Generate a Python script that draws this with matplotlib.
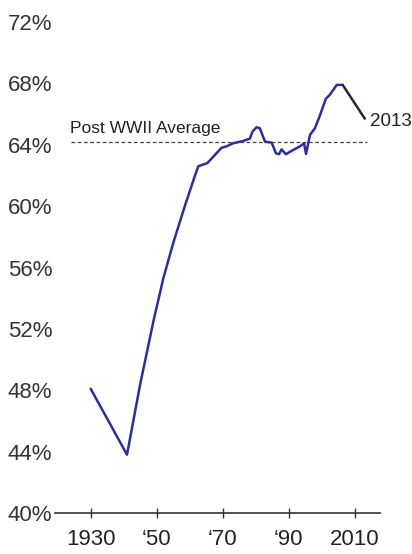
import matplotlib
matplotlib.use("Agg")
import matplotlib.pyplot as plt

# Homeownership rate, percent of households
years = [1930, 1941, 1945, 1949, 1952, 1955, 1958.5, 1961.6, 1962.6, 1965.3,
         1966.6, 1969.6, 1971.2, 1973.2, 1976.2, 1978.2, 1979, 1980.2, 1981.2,
         1982.8, 1984.8, 1986.1, 1987, 1987.8, 1989.1, 1990.8, 1993.4, 1994.6,
         1995.2, 1996.4, 1997.9, 1999.4, 2001.2, 2002.4, 2004.5, 2006.3, 2013]
rate = [48.1, 43.8, 48.4, 52.5, 55.3, 57.6, 60.0, 62.0, 62.6, 62.8,
        63.1, 63.8, 63.9, 64.1, 64.25, 64.4, 64.86, 65.14, 65.08,
        64.2, 64.14, 63.44, 63.38, 63.7, 63.38, 63.6, 63.9, 64.1,
        63.4, 64.64, 65.08, 65.9, 67.0, 67.25, 67.9, 67.9, 65.7]
post_war_avg = 64.2
avg_label = "Post WWII Average"
end_label = "2013"

y_ticks = [40, 44, 48, 52, 56, 60, 64, 68, 72]
y_labels = [f"{v}%" for v in y_ticks]
x_ticks = [1930, 1950, 1970, 1990, 2010]
x_labels = ["1930", "\u201850", "\u201870", "\u201890", "2010"]

font = "Liberation Sans"

W, H = 412, 554
fig = plt.figure(figsize=(W / 100, H / 100), dpi=100)
fig.patch.set_facecolor("white")
left_px, right_px, top_px, bottom_px = 55, 380, 22, 513
ax = fig.add_axes([left_px / W, 1 - bottom_px / H,
                   (right_px - left_px) / W, (bottom_px - top_px) / H])
ax.set_xlim(1919.2, 2017.6)
ax.set_ylim(40, 72)

main_color = "#2e2e98"
ax.plot(years[:-1], rate[:-1], color=main_color, lw=1.8, solid_joinstyle="round",
        solid_capstyle="round", zorder=3, clip_on=False)
ax.plot(years[-2:], rate[-2:], color="#26263f", lw=1.8, solid_capstyle="round",
        zorder=3, clip_on=False)

ax.plot([1924, 2013.6], [post_war_avg, post_war_avg], color="#444444", lw=0.9,
        ls=(0, (3, 2)), zorder=2)
ax.annotate(avg_label, xy=(1923.8, post_war_avg), xytext=(0, 4),
            textcoords="offset points", ha="left", va="bottom",
            fontsize=12.5, family=font, color="#222222")
ax.annotate(end_label, xy=(years[-1], rate[-1]), xytext=(4, -2),
            textcoords="offset points", ha="left", va="center",
            fontsize=13.5, family=font, color="#222222", annotation_clip=False)

for s in ["left", "right", "top"]:
    ax.spines[s].set_visible(False)
ax.spines["bottom"].set_color("#333333")
ax.spines["bottom"].set_linewidth(1.2)

ax.set_yticks(y_ticks)
ax.set_yticklabels(y_labels, family=font, fontsize=16, color="#333333")
ax.tick_params(axis="y", length=0, pad=2)
ax.set_xticks(x_ticks)
ax.set_xticklabels(x_labels, family=font, fontsize=16, color="#222222")
ax.tick_params(axis="x", direction="inout", length=7, width=1, color="#333333", pad=8)

fig.savefig("out.png", dpi=100, facecolor="white")
